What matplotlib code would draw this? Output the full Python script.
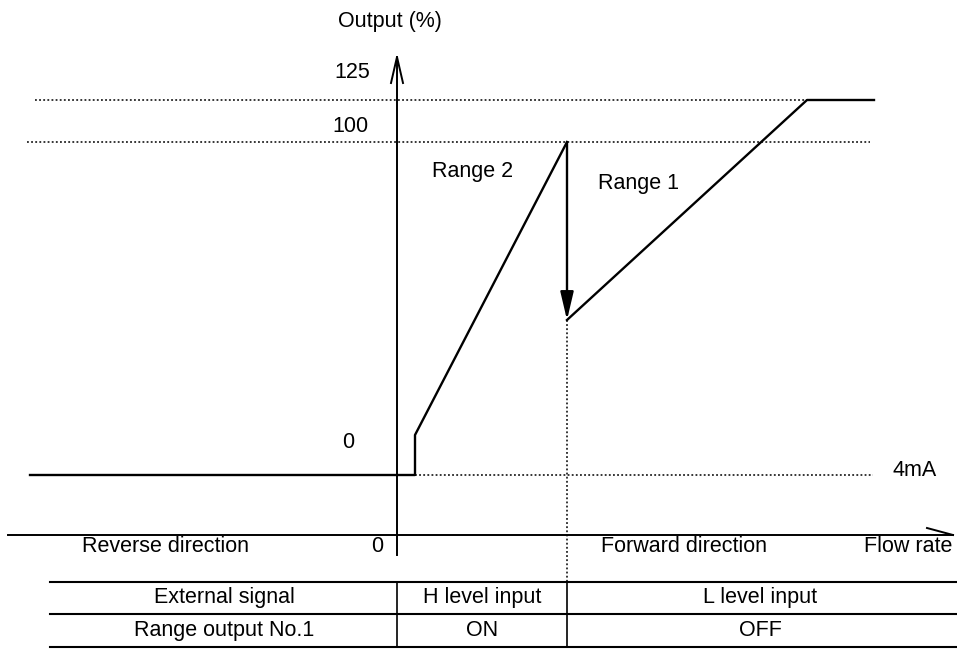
import matplotlib
matplotlib.use('Agg')
import matplotlib.pyplot as plt

plt.rcParams['font.family'] = ['Liberation Sans', 'DejaVu Sans']

# schematic units: x = flow (0 at the output axis), y = output (0 at the 4mA floor)
# the diagram is not to scale, so the levels are kept as drawn positions
lvl_4ma = 0
lvl_0 = 40
lvl_100 = 333
lvl_125 = 375
lvl_r1_start = 155
x_axis_y = -60

# output curve: floor, jump, range 2 ramp, range switch, range 1 ramp, clamp
curve_x = [-367, 18, 18, 170]
curve_y = [lvl_4ma, lvl_4ma, lvl_0, lvl_100]
range1_x = [170, 410, 477]
range1_y = [lvl_r1_start, lvl_125, lvl_125]
switch_x = 170

level_labels = ['125', '100', '0']
level_vals = [lvl_125, lvl_100, lvl_0]

table_rows = ['External signal', 'Range output No.1']
table_h = ['H level input', 'ON']
table_l = ['L level input', 'OFF']
row_lines = [-107, -139, -172]

fig = plt.figure(figsize=(9.57, 6.49), dpi=100)
ax = fig.add_axes([0, 0, 1, 1])
ax.set_xlim(-397, 560)
ax.set_ylim(-174, 475)
ax.axis('off')

dot = dict(color='black', lw=1.1, linestyle=(0, (1.2, 1.5)))
fs = 15.5

# reference levels
ax.plot([-362, range1_x[1]], [lvl_125, lvl_125], **dot)
ax.plot([-370, 473], [lvl_100, lvl_100], **dot)
ax.plot([curve_x[1], 476], [lvl_4ma, lvl_4ma], **dot)
ax.plot([switch_x, switch_x], [lvl_r1_start, row_lines[0]], **dot)

# axes
ax.plot([0, 0], [-80, 418], color='black', lw=1.4)
ax.plot([-6, 0, 6], [392, 418, 392], color='black', lw=1.4)
ax.plot([-389, 556], [x_axis_y, x_axis_y], color='black', lw=1.4)
ax.plot([530, 556], [x_axis_y + 7, x_axis_y], color='black', lw=1.4)

# output curve
ax.plot(curve_x, curve_y, color='black', lw=1.7)
ax.plot(range1_x, range1_y, color='black', lw=1.7)
ax.annotate('', xy=(switch_x, lvl_r1_start), xytext=(switch_x, lvl_100),
            arrowprops=dict(arrowstyle='-|>,head_length=0.85,head_width=0.2',
                            color='black', lw=1.7,
                            mutation_scale=20, shrinkA=0, shrinkB=0))

# texts
ax.text(-7, 453, 'Output (%)', fontsize=fs, ha='center', va='center')
for lab, v, xx in zip(level_labels, [402, 349, 32], [-45, -47, -49]):
    ax.text(xx, v, lab, fontsize=fs, ha='center', va='center')
ax.text(76, 303, 'Range 2', fontsize=fs, ha='center', va='center')
ax.text(241, 292, 'Range 1', fontsize=fs, ha='center', va='center')
ax.text(518, 5, '4mA', fontsize=fs, ha='center', va='center')
ax.text(-231, -72, 'Reverse direction', fontsize=fs, ha='center', va='center')
ax.text(-20, -72, '0', fontsize=fs, ha='center', va='center')
ax.text(287, -72, 'Forward direction', fontsize=fs, ha='center', va='center')
ax.text(511, -72, 'Flow rate', fontsize=fs, ha='center', va='center')

# table
for yy in row_lines:
    ax.plot([-347, 560], [yy, yy], color='black', lw=1.5)
for xx in [0, switch_x]:
    ax.plot([xx, xx], [row_lines[0], row_lines[-1]], color='black', lw=1.2)
for i in range(2):
    yc = (row_lines[i] + row_lines[i + 1]) / 2
    ax.text(-173, yc, table_rows[i], fontsize=fs, ha='center', va='center')
    ax.text(85, yc, table_h[i], fontsize=fs, ha='center', va='center')
    ax.text(363, yc, table_l[i], fontsize=fs, ha='center', va='center')

fig.savefig('out.png', dpi=100)
